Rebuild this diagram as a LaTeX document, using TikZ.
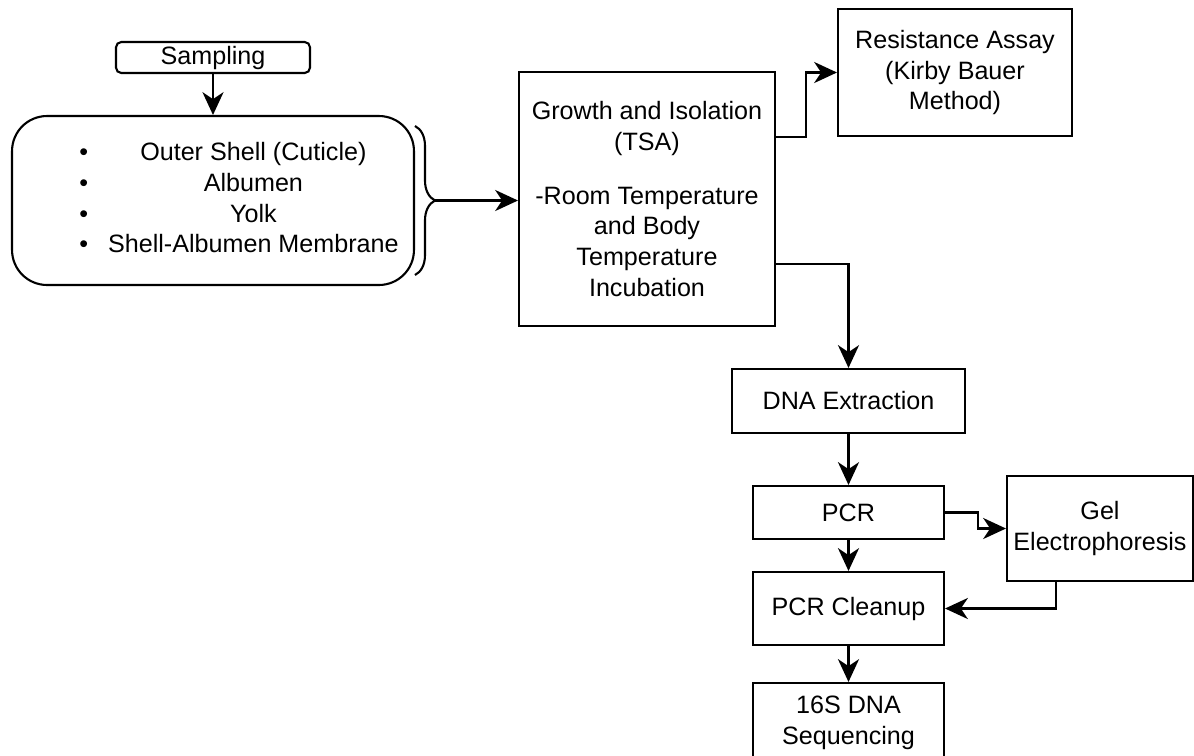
\documentclass[tikz,border=0pt]{standalone}
\usepackage{fontspec}
\setmainfont{Liberation Sans}
\usetikzlibrary{arrows.meta, decorations.pathreplacing, positioning}
\tikzset{>={Stealth[length=13pt,width=12pt,inset=4pt]}}
\tikzset{
  stagebox/.style={draw, line width=1.2pt, inner sep=0pt, align=center,
    font=\fontsize{14.3}{17.5}\selectfont},
  flow/.style={->, line width=1.3pt},
}

\begin{document}
\begin{tikzpicture}[x=0.02cm,y=-0.02cm]
		\useasboundingbox (0,0) rectangle (1194,755);
		
		\node (sampling) at (213,57.5) [stagebox, rounded corners=3pt, minimum width=3.88cm, minimum height=0.62cm] {Sampling};
		\node (parts) at (213,200.5) [stagebox, rounded corners=0.7cm, minimum width=8.04cm, minimum height=3.38cm]
		{\begin{tabular}{@{\hspace{1.04cm}}l@{\hspace{0.4cm}}c@{}}
			\textbullet & Outer Shell (Cuticle)\\
			\textbullet & Albumen\\
			\textbullet & Yolk\\
			\textbullet & Shell-Albumen Membrane
		\end{tabular}};
		\node (growth) at (647,199) [stagebox, minimum width=5.12cm, minimum height=5.08cm]
		{Growth and Isolation\\(TSA)\\[13pt]-Room Temperature\\and Body\\Temperature\\Incubation};
		\node (resist) at (955,72.5) [stagebox, minimum width=4.68cm, minimum height=2.54cm]
		{Resistance Assay\\(Kirby Bauer\\Method)};
		\node (dna) at (848.5,401) [stagebox, minimum width=4.66cm, minimum height=1.28cm] {DNA Extraction};
		\node (pcr) at (848.5,512.5) [stagebox, minimum width=3.82cm, minimum height=1.06cm] {PCR};
		\node (gel) at (1100,528.5) [stagebox, minimum width=3.72cm, minimum height=2.1cm] {Gel\\Electrophoresis};
		\node (cleanup) at (848.5,608.5) [stagebox, minimum width=3.82cm, minimum height=1.46cm] {PCR Cleanup};
		\node (seq) at (848.5,723) [stagebox, minimum width=3.82cm, minimum height=1.6cm] {16S DNA\\Sequencing};
		
		% brace round the sample parts
		\draw [line width=1.2pt, decorate, decoration={brace, amplitude=0.4cm}] (415,126) -- (415,275);
		\coordinate (bracetip) at (435,200.5);
		
		\draw [flow] (sampling) -- (parts);
		\draw [flow] (bracetip) -- (bracetip -| growth.west);
		\draw [flow] (growth.east |- resist.south) -- ++(30,0) |- (resist.west);
		\draw [flow] (growth.south east) ++(0,-63) -| (dna.north);
		\draw [flow] (dna) -- (pcr);
		\draw [flow] (pcr.east) -- ++(33,0) |- (gel.west);
		\draw [flow] (pcr) -- (cleanup);
		\draw [flow] (gel.south) ++(-44,0) |- (cleanup.east);
		\draw [flow] (cleanup) -- (seq);
\end{tikzpicture}
\end{document}
